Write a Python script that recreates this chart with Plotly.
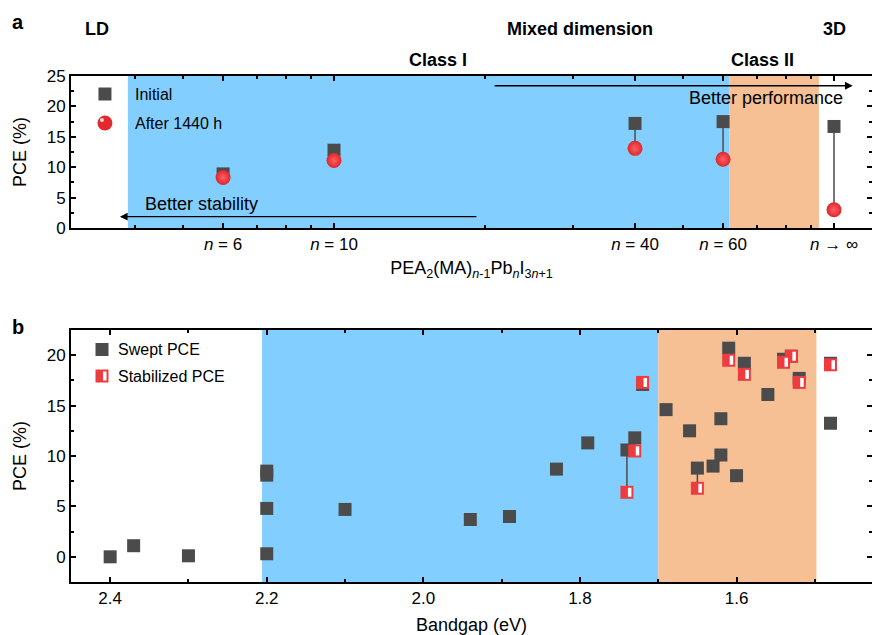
import numpy as np
import plotly.graph_objects as go

# ---------------- Panel a data ----------------
n_vals = [6, 10, 40, 60, 100]          # 100 stands for n -> infinity (3D)
n_labels = ["<i>n</i> = 6", "<i>n</i> = 10", "<i>n</i> = 40", "<i>n</i> = 60", "<i>n</i> → ∞"]
pce_initial = [8.9, 12.8, 17.2, 17.5, 16.7]
pce_after = [8.3, 11.1, 13.1, 11.3, 3.0]
n_minor = [4, 5, 7, 8, 9, 20, 30, 50, 70, 80, 90]

# ---------------- Panel b data ----------------
swept_x = [2.40, 2.37, 2.30, 2.20, 2.20, 2.20, 2.20, 2.10, 1.94, 1.89, 1.83, 1.79,
           1.69, 1.66, 1.63, 1.62, 1.62, 1.60, 1.56, 1.48]
swept_y = [0.0, 1.1, 0.1, 0.3, 4.8, 8.1, 8.5, 4.7, 3.7, 4.0, 8.7, 11.3,
           14.6, 12.5, 9.0, 10.1, 13.7, 8.05, 16.1, 13.25]
# devices with both swept and stabilized PCE
stab_x = [1.74, 1.73, 1.72, 1.65, 1.61, 1.59, 1.54, 1.53, 1.52, 1.48]
stab_swept = [10.6, 11.8, 17.1, 8.8, 20.7, 19.2, 19.6, 19.9, 17.7, 19.2]
stab_y = [6.4, 10.5, 17.3, 6.8, 19.5, 18.1, 19.3, 19.9, 17.3, 19.05]

# region boundaries
a_class1 = (3.87, 61.7)
a_class2 = (61.7, 93.3)
b_class1 = (2.206, 1.70)
b_class2 = (1.70, 1.498)

BLUE = "#82CFFF"
ORANGE = "#F6BF94"
DARK = "#4B4B4B"
RED = "#EE3B40"
FONT = "Arial, Liberation Sans, Helvetica, sans-serif"

fig = go.Figure()

# ---- panel a traces ----
lx, ly = [], []
for n, a, b in zip(n_vals, pce_initial, pce_after):
    lx += [n, n, None]
    ly += [a, b, None]
fig.add_trace(go.Scatter(x=lx, y=ly, mode="lines", line=dict(color=DARK, width=1.5),
                         xaxis="x", yaxis="y", showlegend=False, hoverinfo="skip"))
fig.add_trace(go.Scatter(x=n_vals, y=pce_initial, mode="markers", name="Initial",
                         marker=dict(symbol="square", size=13, color=DARK),
                         xaxis="x", yaxis="y", showlegend=False))
fig.add_trace(go.Scatter(x=n_vals, y=pce_after, mode="markers", name="After 1440 h",
                         marker=dict(symbol="circle", size=15, color="#DE262C",
                                     gradient=dict(type="radial", color="#FF6065")),
                         xaxis="x", yaxis="y", showlegend=False))

# ---- panel b traces ----
lx, ly = [], []
for x, s, t in zip(stab_x, stab_swept, stab_y):
    lx += [x, x, None]
    ly += [s, t, None]
fig.add_trace(go.Scatter(x=lx, y=ly, mode="lines", line=dict(color=DARK, width=1.5),
                         xaxis="x2", yaxis="y2", showlegend=False, hoverinfo="skip"))
fig.add_trace(go.Scatter(x=swept_x + stab_x, y=swept_y + stab_swept, mode="markers",
                         name="Swept PCE",
                         marker=dict(symbol="square", size=13, color=DARK),
                         xaxis="x2", yaxis="y2", showlegend=False))
fig.add_trace(go.Scatter(x=stab_x, y=stab_y, mode="markers", name="Stabilized PCE",
                         marker=dict(symbol="square", size=13, color=RED),
                         xaxis="x2", yaxis="y2", showlegend=False))

shapes = []
# shaded regions
for (x0, x1), col in [(a_class1, BLUE), (a_class2, ORANGE)]:
    shapes.append(dict(type="rect", xref="x", yref="y domain", x0=x0, x1=x1, y0=0, y1=1,
                       fillcolor=col, line=dict(width=0), layer="below"))
for (x0, x1), col in [(b_class1, BLUE), (b_class2, ORANGE)]:
    shapes.append(dict(type="rect", xref="x2", yref="y2 domain", x0=x0, x1=x1, y0=0, y1=1,
                       fillcolor=col, line=dict(width=0), layer="below"))

# sphere highlights
def highlight(xref, yref, xa, ya):
    return dict(type="circle", xref=xref, yref=yref, xsizemode="pixel", ysizemode="pixel",
                xanchor=xa, yanchor=ya, x0=-5, x1=-1, y0=1, y1=5,
                fillcolor="rgba(255,255,255,0.85)", line=dict(width=0), layer="above")

for n, b in zip(n_vals, pce_after):
    shapes.append(highlight("x", "y", n, b))

# half-white stabilized marker
def stab_white(xref, yref, xa, ya):
    return dict(type="rect", xref=xref, yref=yref, xsizemode="pixel", ysizemode="pixel",
                xanchor=xa, yanchor=ya, x0=1, x1=4.5, y0=-4.5, y1=4.5,
                fillcolor="white", line=dict(width=0), layer="above")

for x, t in zip(stab_x, stab_y):
    shapes.append(stab_white("x2", "y2", x, t))

# ---- manual legends (paper coords) ----
def psq(xa, ya, col, s=6.5):
    return dict(type="rect", xref="paper", yref="paper", xsizemode="pixel", ysizemode="pixel",
                xanchor=xa, yanchor=ya, x0=-s, x1=s, y0=-s, y1=s,
                fillcolor=col, line=dict(width=0), layer="above")

shapes.append(psq(0.0424, 0.9644, DARK))
shapes.append(dict(type="circle", xref="paper", yref="paper", xsizemode="pixel", ysizemode="pixel",
                   xanchor=0.0424, yanchor=0.9071, x0=-7.5, x1=7.5, y0=-7.5, y1=7.5,
                   fillcolor="#E4292E", line=dict(width=0), layer="above"))
shapes.append(highlight("paper", "paper", 0.0424, 0.9071))
shapes.append(psq(0.0387, 0.4595, DARK))
shapes.append(psq(0.0387, 0.4071, RED))
shapes.append(stab_white("paper", "paper", 0.0387, 0.4071))

ann = []
def txt(x, y, s, size=18, bold=False, xanchor="center", xref="paper", yref="paper"):
    ann.append(dict(x=x, y=y, xref=xref, yref=yref, text=(f"<b>{s}</b>" if bold else s),
                    showarrow=False, xanchor=xanchor, yanchor="middle",
                    font=dict(size=size, family=FONT, color="black")))

txt(-0.0662, 1.107, "a", size=20, bold=True)
txt(-0.0662, 0.504, "b", size=20, bold=True)
txt(0.0325, 1.093, "LD", bold=True)
txt(0.6355, 1.093, "Mixed dimension", bold=True)
txt(0.9526, 1.093, "3D", bold=True)
txt(0.458, 1.0316, "Class I", bold=True)
txt(0.8627, 1.0316, "Class II", bold=True)
txt(0.0774, 0.9644, "Initial", size=16, xanchor="left")
txt(0.0774, 0.9071, "After 1440 h", size=16, xanchor="left")
txt(0.0562, 0.4595, "Swept PCE", size=16, xanchor="left")
txt(0.0562, 0.4071, "Stabilized PCE", size=16, xanchor="left")

# arrows (panel a, log axis -> log10 coordinates)
ann.append(dict(x=np.log10(3.73), y=1.86, ax=np.log10(19.4), ay=1.86, xref="x", yref="y",
                axref="x", ayref="y", text="", showarrow=True, arrowhead=2, arrowsize=1.2,
                arrowwidth=1.3, arrowcolor="black"))
ann.append(dict(x=np.log10(109), y=23.4, ax=np.log10(20.8), ay=23.4, xref="x", yref="y",
                axref="x", ayref="y", text="", showarrow=True, arrowhead=2, arrowsize=1.2,
                arrowwidth=1.3, arrowcolor="black"))
txt(np.log10(4.15), 3.95, "Better stability", xanchor="left", xref="x", yref="y")
txt(np.log10(105), 21.4, "Better performance", xanchor="right", xref="x", yref="y")

axis_common = dict(showline=True, linecolor="black", linewidth=2, mirror="ticks",
                   ticks="inside", tickcolor="black", tickwidth=1.5, ticklen=5,
                   showgrid=False, zeroline=False, automargin=False,
                   tickfont=dict(size=17, family=FONT, color="black"))

fig.update_layout(
    width=872, height=635,
    margin=dict(l=71, r=0, t=76, b=53, autoexpand=False),
    paper_bgcolor="white", plot_bgcolor="white",
    font=dict(family=FONT, color="black"),
    showlegend=False,
    shapes=shapes, annotations=ann,
    xaxis=dict(axis_common, type="log", domain=[0, 1], anchor="y",
               range=[0.474, 2.076], tickmode="array", tickvals=n_vals, ticktext=n_labels,
               minor=dict(tickmode="array", tickvals=n_minor, ticks="inside", ticklen=3,
                          tickwidth=1.5, tickcolor="black"),
               title=dict(text="PEA<sub>2</sub>(MA)<sub><i>n</i>-1</sub>Pb<sub><i>n</i></sub>I<sub>3<i>n</i>+1</sub>",
                          font=dict(size=18, family=FONT), standoff=8)),
    yaxis=dict(axis_common, domain=[0.6996, 1], anchor="x", range=[0, 25],
               tickmode="linear", tick0=0, dtick=5,
               minor=dict(dtick=2.5, ticks="inside", ticklen=3, tickwidth=1.5, tickcolor="black"),
               title=dict(text="PCE (%)", font=dict(size=18, family=FONT), standoff=15)),
    xaxis2=dict(axis_common, domain=[0, 1], anchor="y2", range=[2.45, 1.427],
                tickmode="linear", tick0=2.4, dtick=0.2, tickformat=".1f",
                minor=dict(dtick=0.1, ticks="inside", ticklen=3, tickwidth=1.5, tickcolor="black"),
                title=dict(text="Bandgap (eV)", font=dict(size=18, family=FONT), standoff=12)),
    yaxis2=dict(axis_common, domain=[0, 0.498], anchor="x2", range=[-2.5, 22.5],
                tickmode="linear", tick0=0, dtick=5,
                minor=dict(dtick=2.5, ticks="inside", ticklen=3, tickwidth=1.5, tickcolor="black"),
                title=dict(text="PCE (%)", font=dict(size=18, family=FONT), standoff=15)),
)

fig.write_html("out.html", config={"displayModeBar": False},
               post_script="document.body.style.margin='0';document.body.style.padding='0';")
